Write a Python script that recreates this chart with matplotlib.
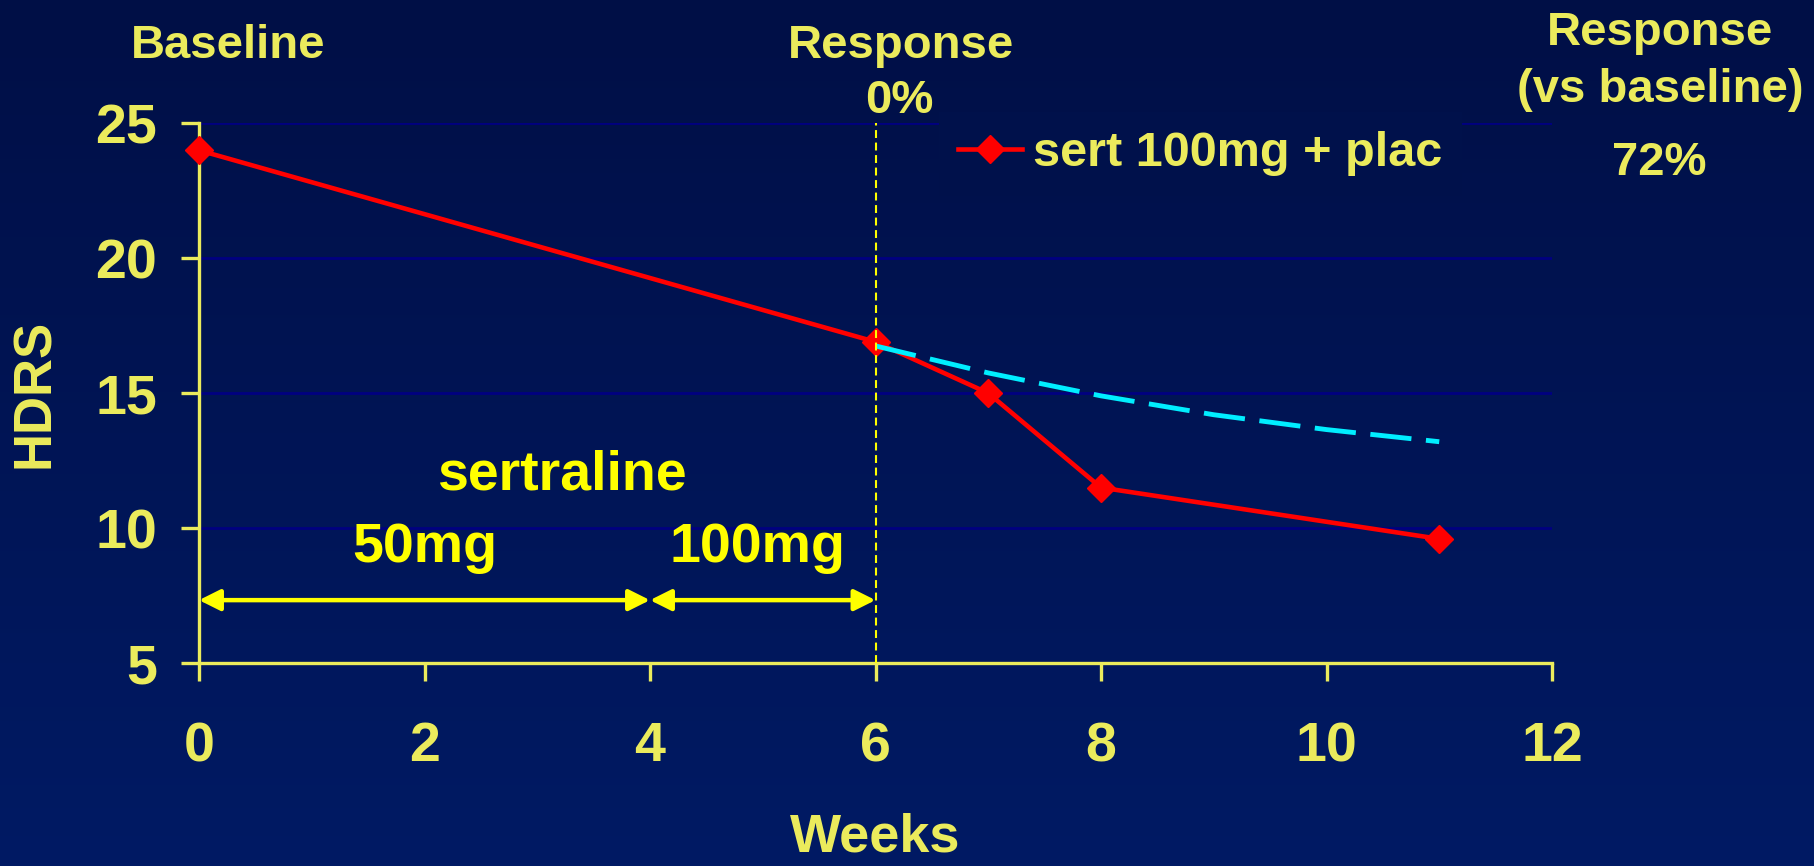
import numpy as np
import matplotlib
matplotlib.use("Agg")
import matplotlib.pyplot as plt
from matplotlib.colors import to_rgb

# figure size in pixels
W, H = 1814, 866
DPI = 100

# HDRS scores over the study weeks
weeks = [0, 6, 7, 8, 11]
hdrs_sert = [24.0, 16.9, 15.0, 11.5, 9.6]
weeks_trend = [6, 7, 8, 9, 10, 11]
hdrs_trend = [16.75, 15.75, 14.9, 14.2, 13.65, 13.2]

x_ticks = [0, 2, 4, 6, 8, 10, 12]
y_ticks = [5, 10, 15, 20, 25]

# dosing phases (start week, end week, label)
phases = [(0, 4, "50mg"), (4, 6, "100mg")]

PALE = "#EBEB5C"
YELLOW = "#FFFF00"
BG_TOP = "#000F46"
BG_BOT = "#001A64"

plt.rcParams["font.family"] = ["Liberation Sans", "DejaVu Sans"]
plt.rcParams["font.weight"] = "bold"


def fx(px):
    return px / W


def fy(py):
    return 1 - py / H


def bg_at(py):
    t = py / H
    a, b = np.array(to_rgb(BG_TOP)), np.array(to_rgb(BG_BOT))
    return tuple(a + (b - a) * t)


fig = plt.figure(figsize=(W / DPI, H / DPI), dpi=DPI)

# vertical background gradient
bg = fig.add_axes([0, 0, 1, 1], zorder=-10)
grad = np.linspace(0, 1, 256)[:, None]
top, bot = np.array(to_rgb(BG_TOP)), np.array(to_rgb(BG_BOT))
img = top[None, None, :] + (bot - top)[None, None, :] * grad[:, :, None]
bg.imshow(img, aspect="auto", extent=[0, 1, 0, 1])
bg.axis("off")

ax = fig.add_axes([fx(199), fy(663), (1552 - 199) / W, (663 - 123.3) / H])
ax.set_facecolor("none")
ax.set_xlim(0, 12)
ax.set_ylim(5, 25)
ax.set_xticks(x_ticks)
ax.set_yticks(y_ticks)

for s in ["top", "right"]:
    ax.spines[s].set_visible(False)
for s in ["left", "bottom"]:
    ax.spines[s].set_color(PALE)
    ax.spines[s].set_linewidth(2.4)

ax.tick_params(axis="both", colors=PALE, length=13, width=2.4,
               labelsize=40, direction="out")
ax.tick_params(axis="x", pad=29)
ax.tick_params(axis="y", pad=17)

ax.yaxis.grid(True, color="#000080", linewidth=2, zorder=0)
ax.set_axisbelow(True)

ax.plot(weeks, hdrs_sert, color="#FF0000", lw=3.3, marker="D", ms=14,
        label="sert 100mg + plac", zorder=3, clip_on=False)
ax.plot(weeks_trend, hdrs_trend, color="#00EEFF", lw=3.5,
        linestyle=(0, (8.5, 3)), zorder=4)
ax.axvline(6, color=YELLOW, lw=1.5, linestyle=(0, (3.8, 2.2)), zorder=5)

# dosing arrows and labels
for x0, x1, lab in phases:
    ax.annotate("", xy=(x1, 7.33), xytext=(x0, 7.33),
                arrowprops=dict(arrowstyle="<|-|>", color=YELLOW, lw=3.2,
                                mutation_scale=32, shrinkA=0, shrinkB=0))
    ax.text((x0 + x1) / 2 + (0.0 if x0 == 0 else -0.05), 8.75, lab,
            color=YELLOW, fontsize=40, ha="center", va="baseline")
ax.text(3.22, 11.44, "sertraline", color=YELLOW, fontsize=40,
        ha="center", va="baseline")

leg = ax.legend(loc="center left", bbox_to_anchor=(fx(939), fy(154)),
                bbox_transform=fig.transFigure, fontsize=35, numpoints=1,
                handlelength=1.3, handletextpad=0.23, borderpad=0.4,
                borderaxespad=0, frameon=True, fancybox=False,
                facecolor=bg_at(154), edgecolor="none", framealpha=1)
for t in leg.get_texts():
    t.set_color(PALE)

# axis titles
fig.text(fx(35), fy(393), "HDRS", color=PALE, fontsize=38, rotation=90,
         ha="center", va="center")
fig.text(fx(875), fy(852), "Weeks", color=PALE, fontsize=39,
         ha="center", va="baseline")

# headings above the chart
heads = [
    (228, 58, "Baseline"),
    (901, 58, "Response"),
    (899, 113, "0%"),
    (1660, 45, "Response"),
    (1660, 102, "(vs baseline)"),
    (1659, 175, "72%"),
]
for px, py, s in heads:
    fig.text(fx(px), fy(py), s, color=PALE, fontsize=34,
             ha="center", va="baseline")

fig.savefig("out.png", dpi=DPI)
